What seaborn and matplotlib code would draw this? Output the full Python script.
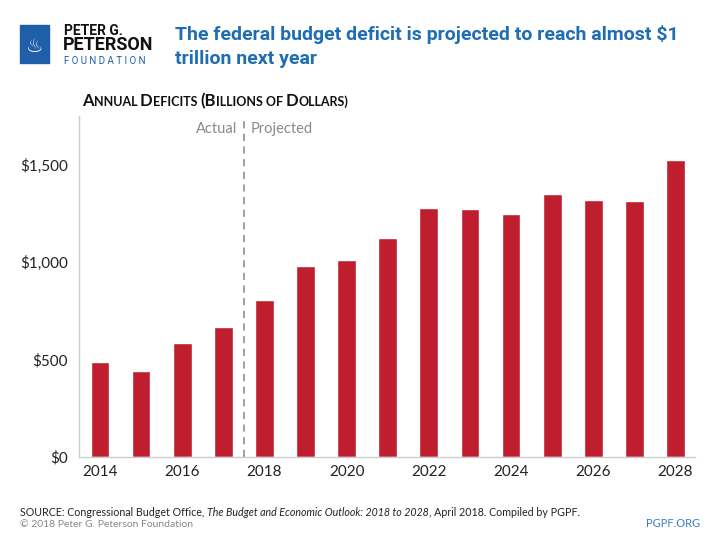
import matplotlib
matplotlib.use('Agg')
import matplotlib.pyplot as plt
import matplotlib.patches as mpatches
import seaborn as sns
import pandas as pd

years = [2014, 2015, 2016, 2017, 2018, 2019, 2020, 2021,
         2022, 2023, 2024, 2025, 2026, 2027, 2028]
deficits = [485, 438, 585, 665, 804, 981, 1008, 1123,
            1276, 1270, 1245, 1352, 1320, 1316, 1526]
x_ticks = [2014, 2016, 2018, 2020, 2022, 2024, 2026, 2028]
y_ticks = [0, 500, 1000, 1500]

RED = '#be1e2d'
BLUE = '#1f6db3'
GRAY = '#8a8a8a'

sns.set_style('white')
plt.rcParams['font.family'] = ['Lato', 'DejaVu Sans']

df = pd.DataFrame({'year': years, 'deficit': deficits})

fig = plt.figure(figsize=(7.2, 5.4), dpi=100)
ax = fig.add_axes([0.1097, 0.1546, 0.8553, 0.6304])

sns.barplot(data=df, x='year', y='deficit', native_scale=True, width=0.455,
            color=RED, saturation=1, ax=ax)

ax.set_xlim(2013.49, 2028.47)
ax.set_ylim(0, 1750)
ax.set_xticks(x_ticks)
ax.set_yticks(y_ticks)
ax.set_yticklabels(['$0', '$500', '$1,000', '$1,500'])
ax.set_xlabel('')
ax.set_ylabel('')
ax.tick_params(axis='y', length=4, color='#bbbbbb', labelsize=11, labelcolor='#222222', pad=4)
ax.tick_params(axis='x', length=0, labelsize=11, labelcolor='#222222', pad=6)
for s in ['top', 'right']:
    ax.spines[s].set_visible(False)
for s in ['left', 'bottom']:
    ax.spines[s].set_color('#cccccc')
    ax.spines[s].set_linewidth(1)

ax.axvline(2017.5, color='#999999', linestyle=(0, (4, 3)), linewidth=1.3)
ax.text(2017.5 - 0.17, 1685, 'Actual', ha='right', va='center', color=GRAY, fontsize=10.5)
ax.text(2017.5 + 0.17, 1685, 'Projected', ha='left', va='center', color=GRAY, fontsize=10.5)

fig.canvas.draw()
renderer = fig.canvas.get_renderer()


def run_text(x, y, parts, **kw):
    # place text pieces one after another in pixel coords
    for txt, props in parts:
        t = fig.text(x / 720, 1 - y / 540, txt, va='baseline', **kw, **props)
        bb = t.get_window_extent(renderer=renderer)
        x += bb.width


# small caps subtitle
big = dict(fontsize=12, fontweight='bold', color='#111111')
small = dict(fontsize=9, fontweight='bold', color='#111111')
run_text(82, 106, [('A', big), ('NNUAL ', small), ('D', big), ('EFICITS ', small),
                   ('(B', big), ('ILLIONS OF ', small), ('D', big), ('OLLARS)', small)])

# title
fig.text(175 / 720, 1 - 40 / 540,
         'The federal budget deficit is projected to reach almost $1',
         fontsize=14, fontweight='bold', color=BLUE, family='Roboto', va='baseline')
fig.text(175 / 720, 1 - 64 / 540, 'trillion next year',
         fontsize=14, fontweight='bold', color=BLUE, family='Roboto', va='baseline')

# logo
fig.patches.append(mpatches.Rectangle((20 / 720, 1 - 63 / 540), 29 / 720, 38 / 540,
                                      transform=fig.transFigure, color='#1f5fa8'))
fig.text(34.5 / 720, 1 - 46 / 540, '\u2668', color='white', fontsize=14,
         ha='center', va='center', family='DejaVu Sans')
fig.text(64 / 720, 1 - 35 / 540, 'PETER G.', fontsize=10, fontweight='bold',
         color='#111111', family='Roboto', va='baseline')
fig.text(63 / 720, 1 - 50.5 / 540, 'PETERSON', fontsize=13, fontweight='bold',
         color='#111111', family='Roboto', va='baseline')
fig.text(64 / 720, 1 - 63.5 / 540, 'F O U N D A T I O N', fontsize=7,
         color='#1f5fa8', family='Roboto', va='baseline')

# footer
fs = dict(fontsize=7.65, color='#222222')
run_text(20, 516, [('SOURCE: Congressional Budget Office, ', fs),
                   ('The Budget and Economic Outlook: 2018 to 2028', dict(fs, style='italic')),
                   (', April 2018. Compiled by PGPF.', fs)])
fig.text(20 / 720, 1 - 527 / 540, '\u00a9 2018 Peter G. Peterson Foundation',
         fontsize=7.5, color='#888888', va='baseline')
fig.text(700 / 720, 1 - 527 / 540, 'PGPF.ORG', fontsize=8, color='#3a7dbf',
         ha='right', va='baseline')

fig.savefig('out.png', dpi=100)
